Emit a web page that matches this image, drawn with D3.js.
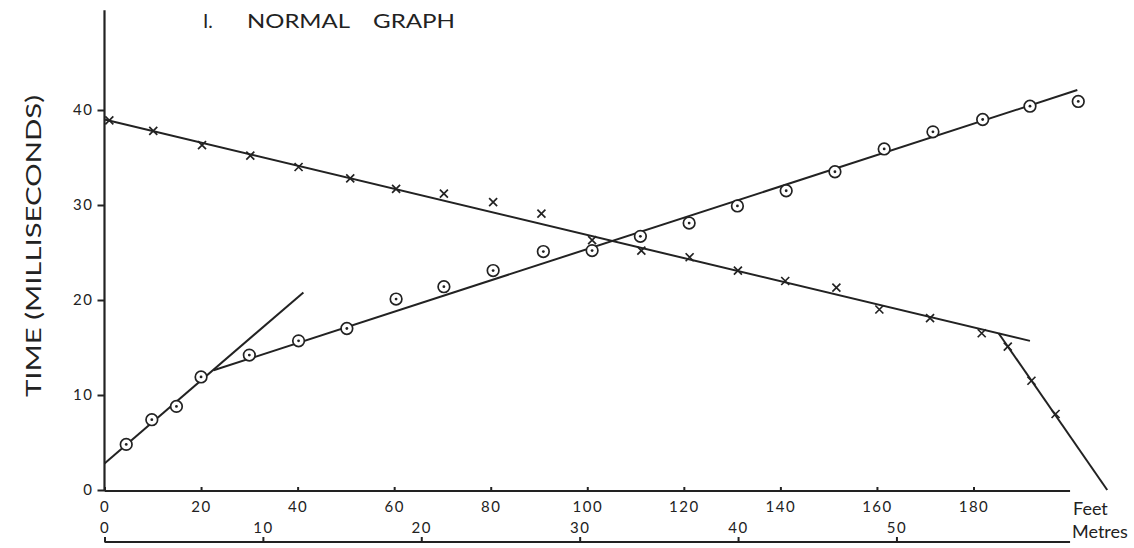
<!DOCTYPE html>
<html><head><meta charset="utf-8">
<script src="https://cdn.jsdelivr.net/npm/d3@7"></script>
<style>
html,body{margin:0;padding:0;background:#fff;}
svg{display:block;}
text{font-family:Lato,"Noto Sans",sans-serif;fill:#222;}
</style></head>
<body>
<svg id="chart" width="1134" height="548"></svg>
<script>
// ---- data ----
const feetTicks = [0,20,40,60,80,100,120,140,160,180];
const metreTicks = [0,10,20,30,40,50];
const timeTicks = [0,10,20,30,40];

const circleFeet = [4.5,9.8,14.9,20,30,40.2,50.2,60.4,70.3,80.5,90.9,101,111,121.1,131.1,141.2,151.3,161.5,171.6,181.9,191.7,201.7];
const circleMs   = [4.8,7.4,8.8,11.9,14.2,15.7,17.0,20.1,21.4,23.1,25.1,25.2,26.7,28.1,29.9,31.5,33.5,35.9,37.7,39.0,40.4,40.9];

const crossFeet = [1,10.1,20.2,30.2,40.2,50.9,60.4,70.3,80.5,90.5,101,111.2,121.2,131.2,141,151.6,160.5,171,181.7,187.1,192,197];
const crossMs   = [38.9,37.8,36.3,35.2,34.0,32.8,31.7,31.2,30.3,29.1,26.3,25.2,24.5,23.1,22.0,21.3,19.0,18.1,16.5,15.1,11.5,8.0];

// fitted straight lines drawn on the graph: [feet, ms] end points
const circleLineA = [[0,2.8],[41.2,20.8]];
const circleLineB = [[22.6,12.6],[201.5,42.1]];
const crossLineA  = [[0,39.0],[191.7,15.7]];
const crossLineB  = [[185.2,16.5],[207.7,0]];

const FT_PER_M = 3.2808;

// ---- drawing ----
const svg = d3.select("#chart");
const ink = "#222";

const x = d3.scaleLinear().domain([0,180]).range([104.5,973.5]);
const xm = d3.scaleLinear().domain([0,180/FT_PER_M]).range([104.5,973.5]);
const y = d3.scaleLinear().domain([0,40]).range([490,110]);

const feetAxisY = 491, metreAxisY = 542;

// axis lines
svg.append("line").attr("x1",x(0)).attr("x2",x(0)).attr("y1",y(0)+1).attr("y2",y(50.5))
  .attr("stroke",ink).attr("stroke-width",2.2);
svg.append("line").attr("x1",x(0)).attr("x2",x(200)).attr("y1",feetAxisY).attr("y2",feetAxisY)
  .attr("stroke",ink).attr("stroke-width",2.2);
svg.append("line").attr("x1",xm(0)).attr("x2",x(200)).attr("y1",metreAxisY).attr("y2",metreAxisY)
  .attr("stroke",ink).attr("stroke-width",2.2);

// y axis
const yAxis = svg.append("g").attr("transform",`translate(${x(0)},0)`)
  .call(d3.axisLeft(y).tickValues(timeTicks).tickSize(7).tickSizeOuter(0).tickPadding(4).tickFormat(d3.format("d")));
yAxis.select(".domain").remove();
yAxis.selectAll("line").attr("stroke",ink).attr("stroke-width",2);
yAxis.selectAll("text").attr("font-size",15).attr("letter-spacing",1.5).style("fill",ink);

// feet axis
const fAxis = svg.append("g").attr("transform",`translate(0,${feetAxisY})`)
  .call(d3.axisBottom(x).tickValues(feetTicks).tickSize(-4).tickSizeOuter(0).tickPadding(10).tickFormat(d3.format("d")));
fAxis.select(".domain").remove();
fAxis.selectAll("line").attr("stroke",ink).attr("stroke-width",2);
fAxis.selectAll("text").attr("font-size",15).attr("letter-spacing",1.5).style("fill",ink);

// metre axis
const mAxis = svg.append("g").attr("transform",`translate(0,${metreAxisY})`)
  .call(d3.axisBottom(xm).tickValues(metreTicks).tickSize(-5).tickSizeOuter(0).tickPadding(0).tickFormat(d3.format("d")));
mAxis.select(".domain").remove();
mAxis.selectAll("line").attr("stroke",ink).attr("stroke-width",2);
mAxis.selectAll("text").attr("font-size",15).attr("letter-spacing",1.5).attr("y",-9).attr("dy","0").style("fill",ink);

// unit labels
svg.append("text").attr("x",1073).attr("y",515).attr("font-size",18).text("Feet");
svg.append("text").attr("x",1072).attr("y",538).attr("font-size",18).text("Metres");

// title
svg.append("text").attr("x",203).attr("y",28).attr("font-size",19).text("I.");
svg.append("text").attr("x",247).attr("y",28).attr("font-size",19).attr("textLength",103).attr("lengthAdjust","spacingAndGlyphs").text("NORMAL");
svg.append("text").attr("x",373).attr("y",28).attr("font-size",19).attr("textLength",82).attr("lengthAdjust","spacingAndGlyphs").text("GRAPH");

// y label
svg.append("text").attr("transform","translate(41,246) rotate(-90)").attr("text-anchor","middle")
  .attr("font-size",21).attr("textLength",302).attr("lengthAdjust","spacingAndGlyphs").text("TIME (MILLISECONDS)");

// fitted lines
const lineGen = d3.line().x(d=>x(d[0])).y(d=>y(d[1]));
[circleLineA,circleLineB,crossLineA,crossLineB].forEach(seg=>{
  svg.append("path").attr("d",lineGen(seg)).attr("fill","none").attr("stroke",ink).attr("stroke-width",2);
});

// circle markers
const circles = circleFeet.map((f,i)=>[f,circleMs[i]]);
const cg = svg.append("g").selectAll("g").data(circles).join("g")
  .attr("transform",d=>`translate(${x(d[0])},${y(d[1])})`);
cg.append("circle").attr("r",5.8).attr("fill","#fff").attr("stroke",ink).attr("stroke-width",1.7);
cg.append("circle").attr("r",1.4).attr("fill",ink);

// cross markers
const crosses = crossFeet.map((f,i)=>[f,crossMs[i]]);
const s = 4;
svg.append("g").selectAll("path").data(crosses).join("path")
  .attr("d",d=>{const cx=x(d[0]), cy=y(d[1]);
    return `M${cx-s},${cy-s}L${cx+s},${cy+s}M${cx-s},${cy+s}L${cx+s},${cy-s}`;})
  .attr("stroke",ink).attr("stroke-width",1.7).attr("fill","none");
</script>
</body></html>
